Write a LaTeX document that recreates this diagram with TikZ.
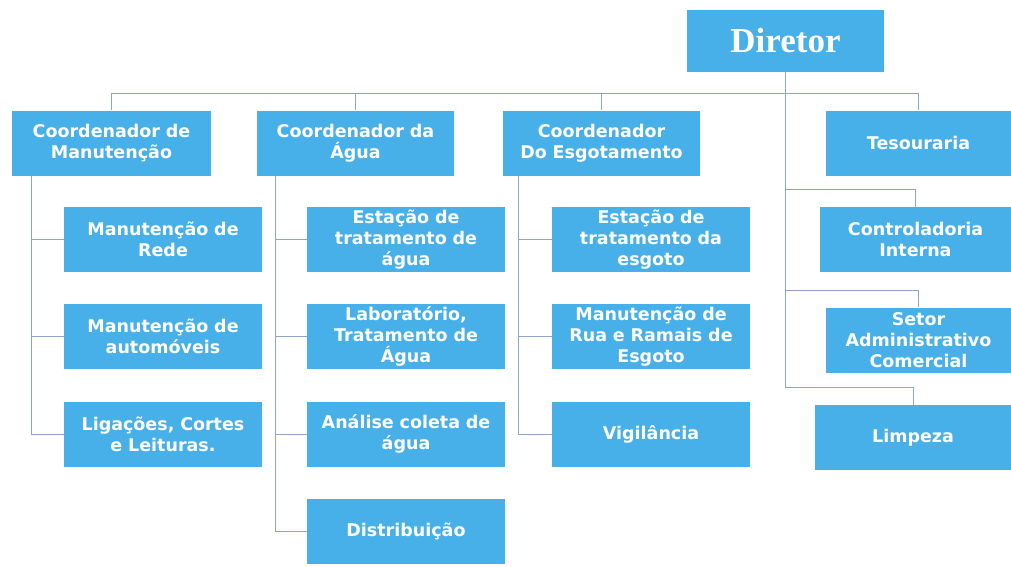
\documentclass[tikz,border=0pt]{standalone}
\usepackage{fontspec}
\setmainfont{DejaVu Sans}
\newfontfamily\titlefont{Liberation Serif}
\usepackage{xcolor}
\usepackage{tikz}
\usetikzlibrary{positioning}
\definecolor{boxblue}{RGB}{72,176,232}
\definecolor{linkblue}{RGB}{140,165,200}

\begin{document}
\begin{tikzpicture}[
  x=1pt, y=1pt,
  node distance=32pt and 50pt,
  box/.style={fill=boxblue, text=white, minimum width=198pt, minimum height=65pt, text width=190pt, inner sep=0pt, align=center, font=\fontsize{17.5}{21}\selectfont\bfseries},
  link/.style={draw=linkblue, line width=0.8pt}
]
\useasboundingbox (0,0) rectangle (1011,-566);
% top row
\node[box, minimum width=197pt, minimum height=62pt, font=\titlefont\fontsize{35}{36}\selectfont\bfseries] (dir) at (785.5,-41) {Diretor};
\node[box, minimum width=199pt] (cman) at (111.5,-143) {Coordenador de\\Manutenção};
\node[box, minimum width=197pt] (cagua) at (355.5,-143) {Coordenador da\\Água};
\node[box, minimum width=197pt] (cesg) at (601.5,-143) {Coordenador\\Do Esgotamento};
\node[box, minimum width=185pt, text width=180pt] (tes) at (918.5,-143) {Tesouraria};

% manutencao
\node[box, below right=31pt and 52pt of cman.south west, anchor=north west] (mrede) {Manutenção de\\Rede};
\node[box, below=of mrede] (mauto) {Manutenção de\\automóveis};
\node[box, below=of mauto] (lig) {Ligações, Cortes\\e Leituras.};

% agua
\node[box, below right=31pt and 50pt of cagua.south west, anchor=north west] (eta) {Estação de\\tratamento de\\água};
\node[box, below=of eta] (lab) {Laboratório,\\Tratamento de\\Água};
\node[box, below=of lab] (anal) {Análise coleta de\\água};
\node[box, below=of anal] (dist) {Distribuição};

% esgoto
\node[box, below right=31pt and 49pt of cesg.south west, anchor=north west] (ete) {Estação de\\tratamento da\\esgoto};
\node[box, below=of ete] (mram) {Manutenção de\\Rua e Ramais de\\Esgoto};
\node[box, below=of mram] (vig) {Vigilância};

% diretor direto
\node[box, minimum width=191pt, text width=184pt] (ctrl) at (915.5,-239.5) {Controladoria\\Interna};
\node[box, minimum width=185pt, text width=180pt] (setor) at (918.5,-340) {Setor\\Administrativo\\Comercial};
\node[box, minimum width=196pt, text width=184pt] (limp) at (913,-437.5) {Limpeza};

\coordinate (bus) at (dir.south |- 0,-93);
\draw[link] (dir.south) -- (bus);
\foreach \n in {cman,cagua,cesg,tes}
  \draw[link] (bus) -| (\n.north);
\foreach \n in {ctrl,setor,limp}
  \draw[link] (bus) |- ([yshift=17pt]\n.north) -- (\n.north);
\foreach \n in {mrede,mauto,lig}
  \draw[link] ([xshift=20pt]cman.south west) |- (\n.west);
\foreach \n in {eta,lab,anal,dist}
  \draw[link] ([xshift=19pt]cagua.south west) |- (\n.west);
\foreach \n in {ete,mram,vig}
  \draw[link] ([xshift=16pt]cesg.south west) |- (\n.west);
\end{tikzpicture}
\end{document}
